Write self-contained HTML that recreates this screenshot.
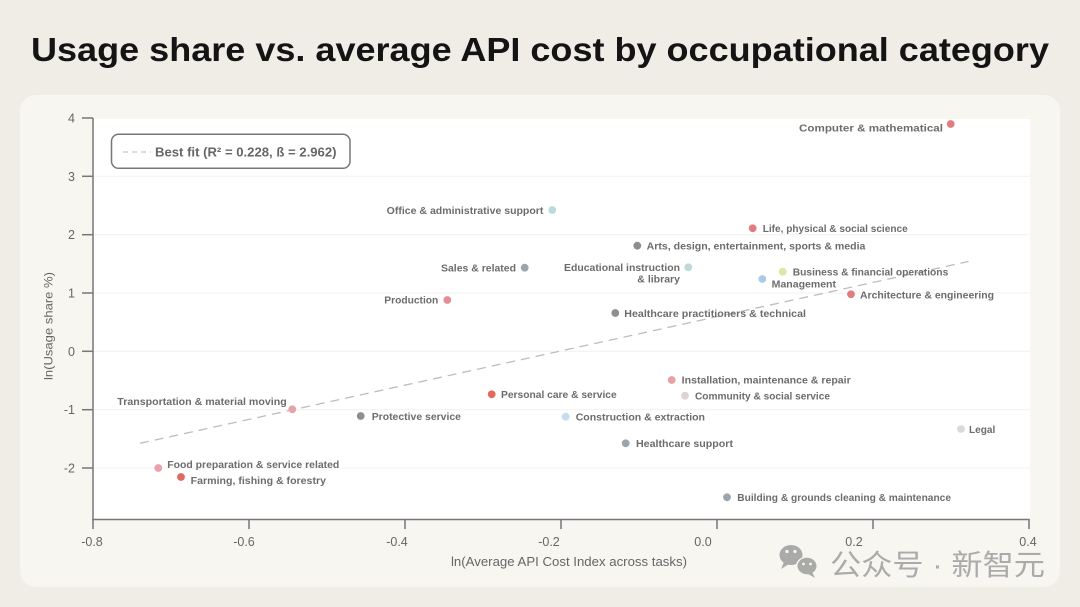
<!DOCTYPE html>
<html>
<head>
<meta charset="utf-8">
<style>
  html, body { margin: 0; padding: 0; background: #f0ede7; }
  svg { display: block; }
  .lbl { font-family: "Liberation Sans", sans-serif; font-size: 10.5px; font-weight: bold; fill: #6c6c6c; }
  .tick { font-family: "Liberation Sans", sans-serif; font-size: 12.5px; fill: #666; }
</style>
</head>
<body>
<svg width="1080" height="607" viewBox="0 0 1080 607" xmlns="http://www.w3.org/2000/svg">
  <rect x="0" y="0" width="1080" height="607" fill="#f0ede7"/>
  <!-- Title -->
  <text x="31" y="61" font-family="Liberation Sans, sans-serif" font-size="33" font-weight="bold" fill="#141414" textLength="1018" lengthAdjust="spacingAndGlyphs">Usage share vs. average API cost by occupational category</text>

  <!-- Card -->
  <rect x="20" y="95" width="1040" height="492" rx="16" fill="#f8f6f1"/>

  <!-- Plot area -->
  <rect x="93" y="119" width="937" height="400" fill="#ffffff"/>
  <!-- gridlines -->
  <g stroke="#f3f1ec" stroke-width="1">
    <line x1="93" y1="176.3" x2="1030" y2="176.3"/>
    <line x1="93" y1="234.7" x2="1030" y2="234.7"/>
    <line x1="93" y1="293" x2="1030" y2="293"/>
    <line x1="93" y1="351.3" x2="1030" y2="351.3"/>
    <line x1="93" y1="409.7" x2="1030" y2="409.7"/>
    <line x1="93" y1="468" x2="1030" y2="468"/>
  </g>

  <!-- Axes -->
  <g stroke="#777" stroke-width="1.5" fill="none">
    <line x1="93" y1="118" x2="93" y2="520"/>
    <line x1="92.3" y1="519.5" x2="1029.7" y2="519.5"/>
    <!-- y ticks -->
    <line x1="82" y1="118" x2="93" y2="118"/>
    <line x1="82" y1="176.3" x2="93" y2="176.3"/>
    <line x1="82" y1="234.7" x2="93" y2="234.7"/>
    <line x1="82" y1="293" x2="93" y2="293"/>
    <line x1="82" y1="351.3" x2="93" y2="351.3"/>
    <line x1="82" y1="409.7" x2="93" y2="409.7"/>
    <line x1="82" y1="468" x2="93" y2="468"/>
    <!-- x ticks -->
    <line x1="93" y1="519" x2="93" y2="529"/>
    <line x1="249" y1="519" x2="249" y2="529"/>
    <line x1="405" y1="519" x2="405" y2="529"/>
    <line x1="561" y1="519" x2="561" y2="529"/>
    <line x1="717" y1="519" x2="717" y2="529"/>
    <line x1="873" y1="519" x2="873" y2="529"/>
    <line x1="1029" y1="519" x2="1029" y2="529"/>
  </g>

  <!-- y tick labels -->
  <g class="tick" text-anchor="end">
    <text x="75" y="122.5">4</text>
    <text x="75" y="180.8">3</text>
    <text x="75" y="239.2">2</text>
    <text x="75" y="297.5">1</text>
    <text x="75" y="355.8">0</text>
    <text x="75" y="414.2">-1</text>
    <text x="75" y="472.5">-2</text>
  </g>
  <!-- x tick labels -->
  <g class="tick" text-anchor="middle">
    <text x="92" y="546">-0.8</text>
    <text x="244" y="546">-0.6</text>
    <text x="397" y="546">-0.4</text>
    <text x="549" y="546">-0.2</text>
    <text x="703" y="546">0.0</text>
    <text x="854" y="546">0.2</text>
    <text x="1028" y="546">0.4</text>
  </g>

  <!-- axis titles -->
  <text x="451" y="566" font-family="Liberation Sans, sans-serif" font-size="12.5" fill="#666" textLength="236" lengthAdjust="spacingAndGlyphs">ln(Average API Cost Index across tasks)</text>
  <text transform="translate(52.5,380) rotate(-90)" x="0" y="0" font-family="Liberation Sans, sans-serif" font-size="12" fill="#666" textLength="108" lengthAdjust="spacingAndGlyphs">ln(Usage share %)</text>

  <!-- best fit line -->
  <line x1="140" y1="443.3" x2="968.5" y2="261.5" stroke="#bdbdbd" stroke-width="1.3" stroke-dasharray="9,6"/>

  <!-- Legend -->
  <rect x="111.5" y="134.3" width="238.5" height="34" rx="7" fill="#ffffff" stroke="#777" stroke-width="1.5"/>
  <line x1="123" y1="152" x2="151" y2="152" stroke="#c8c8c8" stroke-width="1.3" stroke-dasharray="5,4"/>
  <text x="155" y="156.5" font-family="Liberation Sans, sans-serif" font-size="12.5" font-weight="bold" fill="#666" textLength="181.5" lengthAdjust="spacingAndGlyphs">Best fit (R² = 0.228, ß = 2.962)</text>

  <!-- Dots -->
  <g>
    <circle cx="950.7" cy="124" r="3.9" fill="#e27d7f"/>
    <circle cx="752.7" cy="228.3" r="3.9" fill="#e27d7f"/>
    <circle cx="637.3" cy="245.7" r="3.9" fill="#8e8e8e"/>
    <circle cx="688.3" cy="267.3" r="3.9" fill="#bcdada"/>
    <circle cx="782.7" cy="271.7" r="3.9" fill="#dce6a5"/>
    <circle cx="762.3" cy="279" r="3.9" fill="#a9cbe8"/>
    <circle cx="851" cy="294.3" r="3.9" fill="#e27d7f"/>
    <circle cx="552.3" cy="210" r="3.9" fill="#bcdada"/>
    <circle cx="524.7" cy="267.7" r="3.9" fill="#9aa6ab"/>
    <circle cx="447.3" cy="300" r="3.9" fill="#e38e97"/>
    <circle cx="615.3" cy="313" r="3.9" fill="#8e8e8e"/>
    <circle cx="491.7" cy="394.3" r="3.9" fill="#e06a5c"/>
    <circle cx="360.7" cy="416" r="3.9" fill="#8e8e8e"/>
    <circle cx="565.7" cy="416.7" r="3.9" fill="#c3dcee"/>
    <circle cx="625.7" cy="443.3" r="3.9" fill="#9aa6ab"/>
    <circle cx="671.7" cy="380" r="3.9" fill="#e6a2a7"/>
    <circle cx="685" cy="395.7" r="3.9" fill="#ddd4d1"/>
    <circle cx="961" cy="429" r="3.9" fill="#d9d9d6"/>
    <circle cx="727" cy="497.3" r="3.9" fill="#9aa6ab"/>
    <circle cx="292.3" cy="409.3" r="3.9" fill="#e8a2aa"/>
    <circle cx="158.3" cy="468" r="3.9" fill="#e8a2aa"/>
    <circle cx="181" cy="477" r="3.9" fill="#e06a5c"/>
  </g>

  <!-- Labels -->
  <g class="lbl">
    <text x="799" y="131.5" textLength="144" lengthAdjust="spacingAndGlyphs">Computer &amp; mathematical</text>
    <text x="762.7" y="232" textLength="145" lengthAdjust="spacingAndGlyphs">Life, physical &amp; social science</text>
    <text x="646.7" y="249.5" textLength="218.7" lengthAdjust="spacingAndGlyphs">Arts, design, entertainment, sports &amp; media</text>
    <text x="564" y="270.8" textLength="116" lengthAdjust="spacingAndGlyphs">Educational instruction</text>
    <text x="637.3" y="282.5" textLength="42.7" lengthAdjust="spacingAndGlyphs">&amp; library</text>
    <text x="792.7" y="275.5" textLength="155.6" lengthAdjust="spacingAndGlyphs">Business &amp; financial operations</text>
    <text x="771.7" y="287.5" textLength="64.3" lengthAdjust="spacingAndGlyphs">Management</text>
    <text x="860" y="298.3" textLength="134" lengthAdjust="spacingAndGlyphs">Architecture &amp; engineering</text>
    <text x="386.7" y="213.8" textLength="156.7" lengthAdjust="spacingAndGlyphs">Office &amp; administrative support</text>
    <text x="441" y="271.5" textLength="75" lengthAdjust="spacingAndGlyphs">Sales &amp; related</text>
    <text x="384.3" y="303.5" textLength="54" lengthAdjust="spacingAndGlyphs">Production</text>
    <text x="624.3" y="317" textLength="181.7" lengthAdjust="spacingAndGlyphs">Healthcare practitioners &amp; technical</text>
    <text x="501" y="398.2" textLength="115.7" lengthAdjust="spacingAndGlyphs">Personal care &amp; service</text>
    <text x="371.7" y="420" textLength="89.3" lengthAdjust="spacingAndGlyphs">Protective service</text>
    <text x="575.7" y="420.6" textLength="129.3" lengthAdjust="spacingAndGlyphs">Construction &amp; extraction</text>
    <text x="636" y="447.2" textLength="97" lengthAdjust="spacingAndGlyphs">Healthcare support</text>
    <text x="681.7" y="383.3" textLength="169" lengthAdjust="spacingAndGlyphs">Installation, maintenance &amp; repair</text>
    <text x="695" y="399.5" textLength="135" lengthAdjust="spacingAndGlyphs">Community &amp; social service</text>
    <text x="969" y="432.8" textLength="26.3" lengthAdjust="spacingAndGlyphs">Legal</text>
    <text x="737.3" y="501.2" textLength="213.7" lengthAdjust="spacingAndGlyphs">Building &amp; grounds cleaning &amp; maintenance</text>
    <text x="117.3" y="404.8" textLength="169.4" lengthAdjust="spacingAndGlyphs">Transportation &amp; material moving</text>
    <text x="167.3" y="468" textLength="172" lengthAdjust="spacingAndGlyphs">Food preparation &amp; service related</text>
    <text x="190.7" y="484" textLength="135.3" lengthAdjust="spacingAndGlyphs">Farming, fishing &amp; forestry</text>
  </g>

  <!-- Watermark -->
  <g opacity="0.95">
    <ellipse cx="791" cy="555" rx="11.5" ry="10" fill="#a6a6a6"/>
    <path d="M784 562 L781 569 L789 564 Z" fill="#a6a6a6"/>
    <circle cx="787" cy="551.5" r="1.6" fill="#f8f6f1"/>
    <circle cx="795" cy="551.5" r="1.6" fill="#f8f6f1"/>
    <ellipse cx="807" cy="566" rx="11" ry="9.5" fill="#f8f6f1"/>
    <ellipse cx="807" cy="566" rx="9.5" ry="8.2" fill="#a6a6a6"/>
    <path d="M812 572 L815 578 L808 574 Z" fill="#a6a6a6"/>
    <circle cx="803.5" cy="564" r="1.4" fill="#f8f6f1"/>
    <circle cx="810.5" cy="564" r="1.4" fill="#f8f6f1"/>
    <text x="830" y="575" font-family="Liberation Sans, Noto Sans CJK SC, sans-serif" font-size="29" fill="#a8a8a8" textLength="215" lengthAdjust="spacingAndGlyphs">公众号 · 新智元</text>
  </g>
</svg>
</body>
</html>
